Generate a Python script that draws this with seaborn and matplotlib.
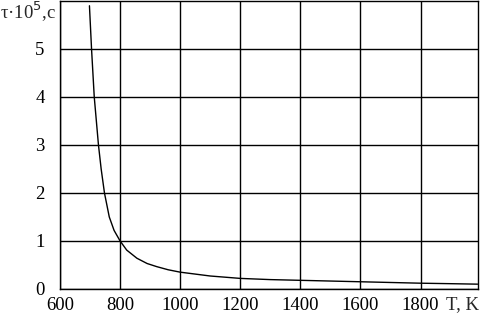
import matplotlib
matplotlib.use("Agg")
import matplotlib.pyplot as plt
import seaborn as sns
import pandas as pd

T = [698, 705, 714, 728, 737, 748, 756, 764, 780, 800, 822, 856, 890, 922, 960, 1000,
     1100, 1200, 1300, 1400, 1500, 1600, 1700, 1800, 1900, 1990]
tau = [5.9, 5.0, 4.0, 3.0, 2.5, 2.0, 1.75, 1.5, 1.22, 1.0, 0.81, 0.64, 0.53, 0.465, 0.40, 0.35,
       0.27, 0.22, 0.195, 0.18, 0.165, 0.15, 0.135, 0.12, 0.11, 0.10]
x_ticks = [600, 800, 1000, 1200, 1400, 1600, 1800]
y_ticks = [0, 1, 2, 3, 4, 5]

sns.set_theme(style="white")
plt.rcParams['font.family'] = ['Liberation Serif', 'DejaVu Serif']

df = pd.DataFrame({"T": T, "tau": tau})
fig = plt.figure(figsize=(4.8, 3.2), dpi=100)
ax = fig.add_axes([0.125, 0.097, 0.870, 0.900])
sns.lineplot(data=df, x="T", y="tau", ax=ax, color="black", lw=1.0,
             sort=False, estimator=None)
ax.set_xlim(600, 1990)
ax.set_ylim(0, 6.0)
ax.set_xticks(x_ticks)
ax.set_xticklabels([str(v) for v in x_ticks])
ax.set_yticks(y_ticks)
ax.set_yticklabels([str(v) for v in y_ticks])
ax.grid(True, color="black", lw=1.0)
ax.set_axisbelow(True)
for s in ax.spines.values():
    s.set_color("black")
    s.set_linewidth(1.0)
ax.tick_params(axis="both", length=0, labelsize=13.5, colors="black")
ax.tick_params(axis="x", pad=6)
ax.tick_params(axis="y", pad=11)
ax.set_xlabel("")
ax.set_ylabel("")
fig.text(0.998, 0.034, "T, K", ha="right", va="baseline", fontsize=13.5)
fig.text(0.0, 0.94, r"τ·10$^5$,c", ha="left", va="baseline", fontsize=13.5)
fig.savefig("out.png", dpi=100)
